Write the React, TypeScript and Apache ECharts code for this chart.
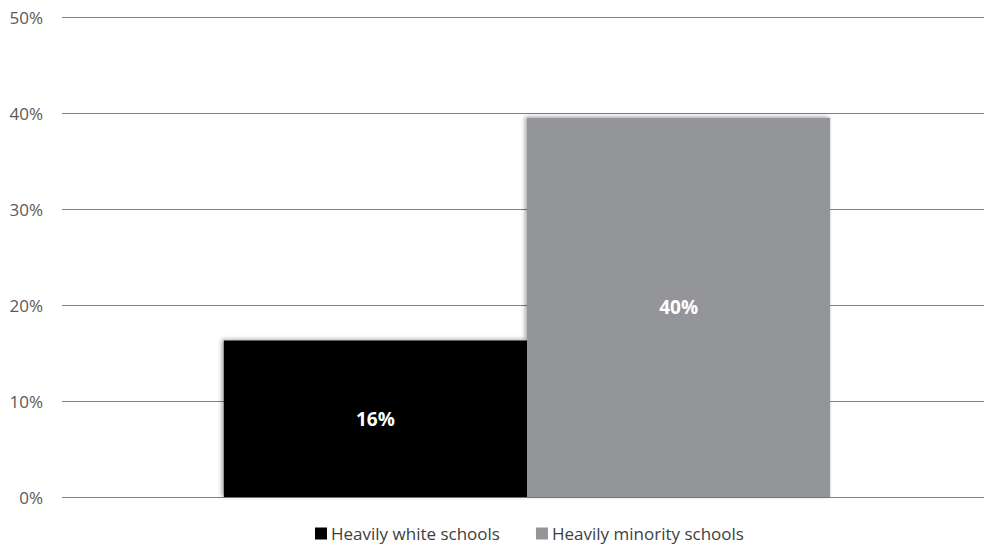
import React, { useEffect, useRef } from "react";
import * as echarts from "echarts";

const categories = [""];
const seriesNames = ["Heavily white schools", "Heavily minority schools"];
const whiteValues = [16.3];
const minorityValues = [39.5];
const displayLabels = ["16%", "40%"];
const yTicks = [0, 10, 20, 30, 40, 50];

export default function App() {
  const ref = useRef<HTMLDivElement>(null);
  useEffect(() => {
    if (!ref.current) return;
    const chart = echarts.init(ref.current, null, { renderer: "svg" });
    const font = "'Open Sans', sans-serif";
    const shadow = {
      shadowColor: "rgba(0,0,0,0.35)",
      shadowBlur: 4,
      shadowOffsetX: -2,
      shadowOffsetY: -1,
    };
    const mkLabel = (i: number) => ({
      show: true,
      position: "inside",
      formatter: () => displayLabels[i],
      color: "#ffffff",
      fontWeight: "bold",
      fontSize: 19,
      fontFamily: font,
    });
    chart.setOption({
      animation: false,
      backgroundColor: "#ffffff",
      grid: [
        { left: 62, right: 1, top: 17, bottom: 47 },
        { left: 69, right: -6, top: 17, bottom: 47 },
      ],
      xAxis: [
        {
          type: "category",
          gridIndex: 0,
          data: categories,
          axisLine: { show: false },
          axisTick: { show: false },
          axisLabel: { show: false },
        },
        {
          type: "category",
          gridIndex: 1,
          data: categories,
          axisLine: { show: false },
          axisTick: { show: false },
          axisLabel: { show: false },
        },
      ],
      yAxis: [
        {
          type: "value",
          gridIndex: 0,
          min: yTicks[0],
          max: yTicks[yTicks.length - 1],
          interval: 10,
          axisLine: { show: false },
          axisTick: { show: false },
          axisLabel: {
            formatter: "{value}%",
            color: "#595959",
            fontSize: 17,
            fontFamily: font,
            margin: 19,
          },
          splitLine: { lineStyle: { color: "#7f7f7f", width: 1 } },
        },
        {
          type: "value",
          gridIndex: 1,
          min: yTicks[0],
          max: yTicks[yTicks.length - 1],
          interval: 10,
          axisLine: { show: false },
          axisTick: { show: false },
          axisLabel: { show: false },
          splitLine: { show: false },
        },
      ],
      legend: {
        top: 525,
        left: 315,
        padding: 0,
        itemWidth: 12,
        itemHeight: 12,
        itemGap: 36,
        icon: "rect",
        textStyle: { color: "#404040", fontSize: 17, fontFamily: font, padding: [0, 0, 0, -1] },
        data: seriesNames,
      },
      series: [
        {
          name: seriesNames[0],
          type: "bar",
          xAxisIndex: 1,
          yAxisIndex: 1,
          data: whiteValues,
          barGap: "0%",
          barCategoryGap: "33.8%",
          itemStyle: { color: "#000000", ...shadow },
          label: mkLabel(0),
        },
        {
          name: seriesNames[1],
          type: "bar",
          xAxisIndex: 1,
          yAxisIndex: 1,
          data: minorityValues,
          barGap: "0%",
          barCategoryGap: "33.8%",
          itemStyle: { color: "#939598", ...shadow },
          label: mkLabel(1),
        },
      ],
    });
    return () => chart.dispose();
  }, []);
  return <div ref={ref} style={{ width: 985, height: 544, position: "absolute", left: 0, top: 0 }} />;
}
